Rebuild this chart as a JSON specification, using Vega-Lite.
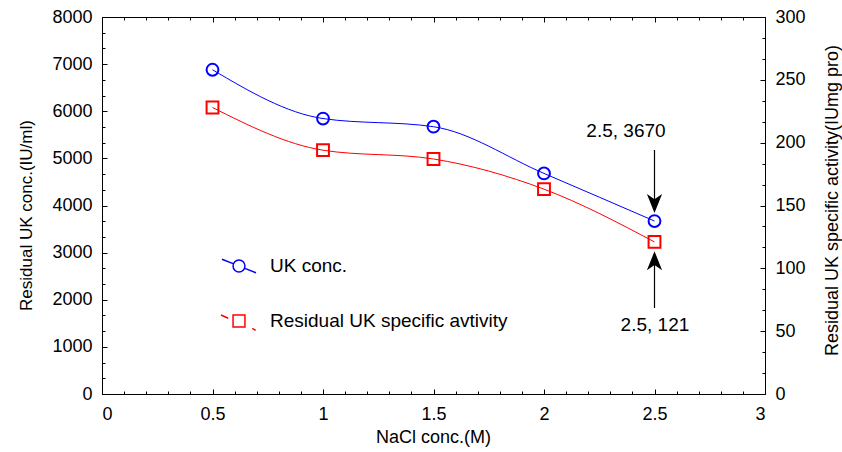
{
  "$schema": "https://vega.github.io/schema/vega-lite/v6.json",
  "width": 663,
  "height": 377,
  "autosize": {"type": "none"},
  "padding": {"left": 102, "top": 17, "right": 77, "bottom": 58},
  "background": "white",
  "config": {
    "view": {"stroke": null},
    "font": "Liberation Sans",
    "axis": {
      "grid": false,
      "domainColor": "black",
      "domainWidth": 1,
      "tickColor": "black",
      "tickWidth": 1,
      "labelColor": "black",
      "titleColor": "black",
      "labelFont": "Liberation Sans",
      "titleFont": "Liberation Sans",
      "labelFontSize": 18,
      "titleFontSize": 17,
      "titleFontWeight": "normal"
    },
    "legend": {
      "title": null,
      "orient": "none",
      "legendX": 119,
      "legendY": 231,
      "symbolSize": 1156,
      "symbolStrokeWidth": 1.5,
      "labelFont": "Liberation Sans",
      "labelFontSize": 19,
      "labelColor": "black",
      "labelOffset": 13,
      "rowPadding": 27,
      "labelLimit": 400
    }
  },
  "datasets": {
    "uk": [
      {"x": 0.5, "y": 6880, "s": "UK conc."},
      {"x": 1.0, "y": 5845, "s": "UK conc."},
      {"x": 1.5, "y": 5672, "s": "UK conc."},
      {"x": 2.0, "y": 4681, "s": "UK conc."},
      {"x": 2.5, "y": 3670, "s": "UK conc."}
    ],
    "sa": [
      {"x": 0.5, "y": 228, "s": "Residual UK specific avtivity"},
      {"x": 1.0, "y": 194, "s": "Residual UK specific avtivity"},
      {"x": 1.5, "y": 187, "s": "Residual UK specific avtivity"},
      {"x": 2.0, "y": 163, "s": "Residual UK specific avtivity"},
      {"x": 2.5, "y": 121, "s": "Residual UK specific avtivity"}
    ],
    "arrows": [
      {"x": 2.5, "tail": 5178, "head": 4042, "dir": "down"},
      {"x": 2.5, "tail": 1825, "head": 2828, "dir": "up"}
    ],
    "notes": [
      {"x": 2.371, "y": 5581, "t": "2.5, 3670"},
      {"x": 2.502, "y": 1464, "t": "2.5, 121"}
    ]
  },
  "layer": [
    {
      "data": {"name": "uk"},
      "mark": {"type": "line", "interpolate": "monotone", "color": "#0000ff", "strokeWidth": 1},
      "encoding": {
        "x": {"field": "x", "type": "quantitative", "scale": {"domain": [0, 3], "nice": false},
          "axis": {"orient": "bottom", "values": [0, 0.5, 1, 1.5, 2, 2.5, 3], "format": "~g", "tickSize": -5, "labelPadding": 16, "labelBaseline": "top",
            "title": "NaCl conc.(M)", "titleFontSize": 18, "titleX": 331, "titleY": 43, "titleBaseline": "middle", "titleAlign": "center"}},
        "y": {"field": "y", "type": "quantitative", "scale": {"domain": [0, 8000], "nice": false},
          "axis": {"orient": "left", "values": [0, 1000, 2000, 3000, 4000, 5000, 6000, 7000, 8000], "format": "d", "tickSize": -5, "labelPadding": 15,
            "title": "Residual UK conc.(IU/ml)", "titleX": -76, "titleY": 198, "titleAngle": 270, "titleBaseline": "middle", "titleAlign": "center"}}
      }
    },
    {
      "data": {"name": "uk"},
      "mark": {"type": "point", "shape": "circle", "filled": false, "size": 140, "strokeWidth": 2, "opacity": 1},
      "encoding": {
        "x": {"field": "x", "type": "quantitative", "scale": {"domain": [0, 3], "nice": false}, "axis": null},
        "y": {"field": "y", "type": "quantitative", "scale": {"domain": [0, 8000], "nice": false}, "axis": null},
        "color": {"field": "s", "type": "nominal",
          "scale": {"domain": ["UK conc.", "Residual UK specific avtivity"], "range": ["#0000ff", "#ff0000"]}}
      }
    },
    {
      "data": {"name": "sa"},
      "mark": {"type": "line", "interpolate": "monotone", "color": "#ff0000", "strokeWidth": 1},
      "encoding": {
        "x": {"field": "x", "type": "quantitative", "scale": {"domain": [0, 3], "nice": false},
          "axis": {"orient": "top", "values": [0, 0.5, 1, 1.5, 2, 2.5, 3], "labels": false, "tickSize": -5, "title": null}},
        "y": {"field": "y", "type": "quantitative", "scale": {"domain": [0, 300], "nice": false},
          "axis": {"orient": "right", "values": [0, 50, 100, 150, 200, 250, 300], "format": "d", "tickSize": -5, "labelPadding": 15,
            "title": "Residual UK specific activity(IUmg pro)", "titleFontSize": 18, "titleX": 67, "titleY": 183, "titleAngle": 270, "titleBaseline": "middle", "titleAlign": "center"}}
      }
    },
    {
      "data": {"name": "sa"},
      "mark": {"type": "point", "shape": "square", "filled": false, "size": 140, "strokeWidth": 2, "opacity": 1},
      "encoding": {
        "x": {"field": "x", "type": "quantitative", "scale": {"domain": [0, 3], "nice": false}, "axis": null},
        "y": {"field": "y", "type": "quantitative", "scale": {"domain": [0, 300], "nice": false}, "axis": null},
        "color": {"field": "s", "type": "nominal"}
      }
    },
    {
      "data": {"name": "uk"},
      "transform": [{"filter": "datum.x > 100"}],
      "mark": {"type": "point", "filled": false, "size": 140, "strokeWidth": 1.5, "opacity": 1},
      "encoding": {
        "x": {"field": "x", "type": "quantitative", "scale": {"domain": [0, 3], "nice": false}, "axis": null},
        "y": {"field": "y", "type": "quantitative", "scale": {"domain": [0, 8000], "nice": false}, "axis": null},
        "color": {"field": "s", "type": "nominal"},
        "shape": {"field": "s", "type": "nominal",
          "scale": {"domain": ["UK conc.", "Residual UK specific avtivity"],
            "range": ["M-1,-0.4L-0.35,-0.14M0.35,0.14L1,0.4M0.35,0A0.35,0.35,0,1,1,-0.35,0A0.35,0.35,0,1,1,0.35,0",
                      "M-1.06,-0.35L-0.63,-0.16M0.78,0.43L0.98,0.55M-0.35,-0.35L0.35,-0.35L0.35,0.35L-0.35,0.35Z"]}}
      }
    },
    {
      "data": {"name": "uk"},
      "mark": {"type": "point", "opacity": 0},
      "encoding": {
        "x": {"field": "x", "type": "quantitative", "scale": {"domain": [0, 3], "nice": false},
          "axis": {"orient": "bottom", "values": [0.1, 0.2, 0.3, 0.4, 0.6, 0.7, 0.8, 0.9, 1.1, 1.2, 1.3, 1.4, 1.6, 1.7, 1.8, 1.9, 2.1, 2.2, 2.3, 2.4, 2.6, 2.7, 2.8, 2.9], "labels": false, "domain": false, "tickSize": -3, "title": null}},
        "y": {"field": "y", "type": "quantitative", "scale": {"domain": [0, 8000], "nice": false},
          "axis": {"orient": "left", "values": [333.33, 666.67, 1333.33, 1666.67, 2333.33, 2666.67, 3333.33, 3666.67, 4333.33, 4666.67, 5333.33, 5666.67, 6333.33, 6666.67, 7333.33, 7666.67], "labels": false, "domain": false, "tickSize": -3, "title": null}}
      }
    },
    {
      "data": {"name": "sa"},
      "mark": {"type": "point", "opacity": 0},
      "encoding": {
        "x": {"field": "x", "type": "quantitative", "scale": {"domain": [0, 3], "nice": false},
          "axis": {"orient": "top", "values": [0.1, 0.2, 0.3, 0.4, 0.6, 0.7, 0.8, 0.9, 1.1, 1.2, 1.3, 1.4, 1.6, 1.7, 1.8, 1.9, 2.1, 2.2, 2.3, 2.4, 2.6, 2.7, 2.8, 2.9], "labels": false, "domain": false, "tickSize": -3, "title": null}},
        "y": {"field": "y", "type": "quantitative", "scale": {"domain": [0, 300], "nice": false},
          "axis": {"orient": "right", "values": [16.667, 33.333, 66.667, 83.333, 116.667, 133.333, 166.667, 183.333, 216.667, 233.333, 266.667, 283.333], "labels": false, "domain": false, "tickSize": -3, "title": null}}
      }
    },
    {
      "data": {"name": "arrows"},
      "mark": {"type": "rule", "color": "black", "strokeWidth": 1.2},
      "encoding": {
        "x": {"field": "x", "type": "quantitative", "scale": {"domain": [0, 3], "nice": false}, "axis": null},
        "y": {"field": "tail", "type": "quantitative", "scale": {"domain": [0, 8000], "nice": false}, "axis": null},
        "y2": {"field": "head"}
      }
    },
    {
      "data": {"name": "arrows"},
      "transform": [{"filter": "datum.dir === 'down'"}],
      "mark": {"type": "point", "shape": "M0,1L-0.8,-1L0,-0.45L0.8,-1Z", "filled": true, "color": "black", "size": 361, "opacity": 1},
      "encoding": {
        "x": {"field": "x", "type": "quantitative", "scale": {"domain": [0, 3], "nice": false}, "axis": null},
        "y": {"field": "head", "type": "quantitative", "scale": {"domain": [0, 8000], "nice": false}, "axis": null}
      }
    },
    {
      "data": {"name": "arrows"},
      "transform": [{"filter": "datum.dir === 'up'"}],
      "mark": {"type": "point", "shape": "M0,-1L-0.8,1L0,0.45L0.8,1Z", "filled": true, "color": "black", "size": 361, "opacity": 1},
      "encoding": {
        "x": {"field": "x", "type": "quantitative", "scale": {"domain": [0, 3], "nice": false}, "axis": null},
        "y": {"field": "head", "type": "quantitative", "scale": {"domain": [0, 8000], "nice": false}, "axis": null}
      }
    },
    {
      "data": {"name": "notes"},
      "mark": {"type": "text", "fontSize": 19, "font": "Liberation Sans", "color": "black", "align": "center", "baseline": "middle"},
      "encoding": {
        "x": {"field": "x", "type": "quantitative", "scale": {"domain": [0, 3], "nice": false}, "axis": null},
        "y": {"field": "y", "type": "quantitative", "scale": {"domain": [0, 8000], "nice": false}, "axis": null},
        "text": {"field": "t"}
      }
    }
  ],
  "resolve": {
    "scale": {"y": "independent"},
    "axis": {"x": "independent", "y": "independent"}
  }
}
